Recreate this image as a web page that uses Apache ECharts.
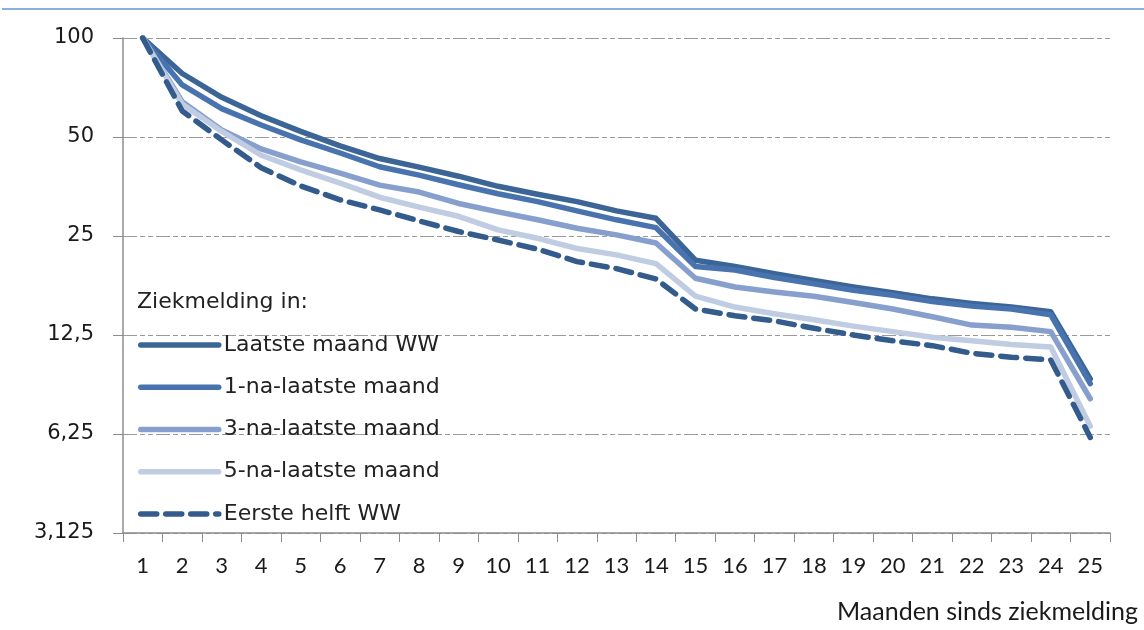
<!DOCTYPE html>
<html>
<head>
<meta charset="utf-8">
<script src="https://cdn.jsdelivr.net/npm/echarts@6/dist/echarts.min.js"></script>
<style>html,body{margin:0;padding:0;background:#fff}#c{width:1144px;height:630px}</style>
</head>
<body>
<div id="c"></div>
<script>
const months = ['1','2','3','4','5','6','7','8','9','10','11','12','13','14','15','16','17','18','19','20','21','22','23','24','25'];
const yTicks = [3.125, 6.25, 12.5, 25, 50, 100];
const seriesNames = ['Laatste maand WW','1-na-laatste maand','3-na-laatste maand','5-na-laatste maand','Eerste helft WW'];
const laatste   = [100, 78, 66, 58, 52, 47, 43, 40.5, 38, 35.4, 33.5, 31.8, 29.8, 28.3, 21.1, 20.2, 19.2, 18.3, 17.5, 16.8, 16.1, 15.6, 15.2, 14.7, 9.2];
const eenNa     = [100, 72, 61, 54.4, 49, 44.7, 40.6, 38.3, 35.8, 33.6, 31.8, 29.8, 28, 26.5, 20.2, 19.7, 18.7, 17.9, 17.1, 16.5, 15.8, 15.3, 15.0, 14.4, 8.9];
const drieNa    = [100, 64, 52.5, 46, 42, 38.8, 35.7, 34, 31.4, 29.6, 28, 26.4, 25.2, 23.8, 18.6, 17.5, 16.9, 16.4, 15.7, 15.0, 14.2, 13.4, 13.2, 12.8, 8.0];
const vijfNa    = [100, 63, 52, 44, 39.7, 36.2, 32.8, 30.6, 28.7, 26.1, 24.6, 22.9, 21.9, 20.6, 16.4, 15.2, 14.5, 13.9, 13.3, 12.8, 12.3, 12.0, 11.7, 11.5, 6.6];
const eersteHelft = [100, 60, 49, 40.3, 35.5, 32.2, 30, 27.8, 25.8, 24.3, 22.8, 20.9, 19.9, 18.5, 15.0, 14.3, 13.8, 13.1, 12.5, 12.0, 11.6, 11.0, 10.7, 10.5, 6.1];

const colors = ['#3b6597', '#4873af', '#869fcd', '#c0cce2', '#335b8c'];
const dataSets = [laatste, eenNa, drieNa, vijfNa, eersteHelft];

const chart = echarts.init(document.getElementById('c'), null, {renderer: 'canvas'});
const series = dataSets.map((d, i) => ({
  name: seriesNames[i],
  type: 'line',
  data: d,
  symbol: 'none',
  smooth: false,
  color: colors[i],
  lineStyle: {
    color: colors[i],
    width: 5.5,
    type: i === 4 ? [16, 9] : 'solid',
    cap: 'round',
    join: 'round'
  },
  z: 2 + i
}));

const calibriLike = 'Lato,"Open Sans","Liberation Sans",sans-serif';
const verdanaLike = '"DejaVu Sans",Verdana,sans-serif';

chart.setOption({
  animation: false,
  backgroundColor: '#fff',
  grid: {left: 123, right: 34, top: 38, bottom: 97, containLabel: false},
  xAxis: {
    type: 'category',
    data: months,
    boundaryGap: true,
    axisLine: {lineStyle: {color: '#8c8c8c', width: 1.5}},
    axisTick: {show: true, length: 9, lineStyle: {color: '#8c8c8c'}},
    axisLabel: {
      margin: 22,
      fontFamily: calibriLike,
      fontSize: 22,
      color: '#1a1a1a'
    },
    splitLine: {show: false}
  },
  yAxis: {
    type: 'log',
    logBase: 2,
    min: 3.125,
    max: 100,
    axisLine: {show: true, lineStyle: {color: '#8c8c8c', width: 1.5}},
    axisTick: {show: true, length: 10, customValues: yTicks, lineStyle: {color: '#8c8c8c'}},
    axisLabel: {
      customValues: yTicks,
      margin: 29,
      fontFamily: verdanaLike,
      fontSize: 21,
      color: '#1a1a1a',
      formatter: v => String(v).replace('.', ',')
    },
    splitLine: {show: true, lineStyle: {color: '#9a9a9a', width: 1.2, type: [14, 3, 5, 3, 5, 3]}}
  },
  legend: {
    orient: 'vertical',
    left: 133,
    top: 329,
    itemWidth: 78,
    itemHeight: 12,
    itemGap: 20.25,
    data: seriesNames,
    itemStyle: {opacity: 0},
    lineStyle: {width: 'inherit'},
    textStyle: {
      fontFamily: verdanaLike,
      fontSize: 22,
      lineHeight: 22,
      color: '#222'
    }
  },
  graphic: [
    {type: 'line', shape: {x1: 2, y1: 9, x2: 1144, y2: 9}, style: {stroke: '#8eaedb', lineWidth: 2}, silent: true},
    {type: 'text', left: 137, top: 291, style: {text: 'Ziekmelding in:', font: '22px "DejaVu Sans", Verdana, sans-serif', fill: '#222'}},
    {type: 'text', right: 6, top: 599, style: {text: 'Maanden sinds ziekmelding', font: '25px ' + calibriLike, fill: '#1a1a1a'}}
  ],
  series: series
});
</script>
</body>
</html>
